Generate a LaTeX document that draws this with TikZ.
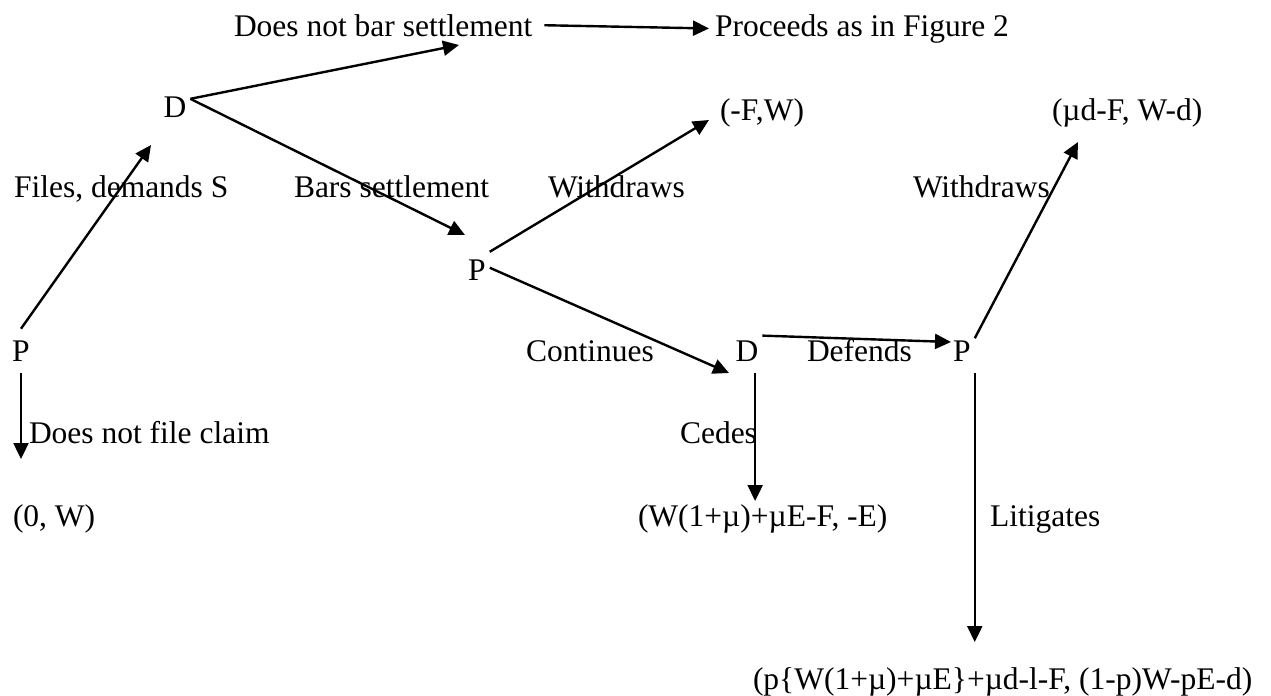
\documentclass[tikz,border=0pt]{standalone}
\usepackage{fontspec}
\setmainfont{Liberation Serif}
\usetikzlibrary{arrows.meta}
\begin{document}
\begin{tikzpicture}[x=.5pt,y=-.5pt,
  lbl/.style={inner sep=0pt,outer sep=0pt,anchor=base west,font=\fontsize{15.75}{18.9}\selectfont},
  player/.style={inner xsep=2pt,inner ysep=6pt,outer sep=0pt,font=\fontsize{15.75}{18.9}\selectfont},
  move/.style={draw,line width=1.2pt,-{Triangle[length=8pt,width=7.5pt]}}]
\path[use as bounding box] (0,0) rectangle (1271,696);
% decision nodes
\node[player] (pA) at (21,351) {P};
\node[player] (dA) at (175,107) {D};
\node[player] (pB) at (477,270) {P};
\node[player] (dB) at (747,351) {D};
\node[player] (pC) at (962,351) {P};
% moves and payoffs
\node[lbl] (barNote) at (234,36) {Does not bar settlement};
\node[lbl] (proceeds) at (715,36) {Proceeds as in Figure 2};
\node[lbl] (payWA) at (720,120) {(-F,W)};
\node[lbl] (payWB) at (1052,120) {(µd-F, W-d)};
\node[lbl] (files) at (14,197) {Files, demands S};
\node[lbl] (bars) at (294,197) {Bars settlement};
\node[lbl] (wdrawA) at (548,197) {Withdraws};
\node[lbl] (wdrawB) at (913,197) {Withdraws};
\node[lbl] (cont) at (526,361) {Continues};
\node[lbl] (defends) at (807,361) {Defends};
\node[lbl] (nofile) at (29,443) {Does not file claim};
\node[lbl] (cedes) at (680,443) {Cedes};
\node[lbl] (payNone) at (13,526) {(0, W)};
\node[lbl] (payCede) at (638,526) {(W(1+µ)+µE-F, -E)};
\node[lbl] (litig) at (990,526) {Litigates};
\node[lbl] (payLit) at (753,689) {(p\{W(1+µ)+µE\}+µd-l-F, (1-p)W-pE-d)};
% free arrow ends
\coordinate (filesTip) at (151,145);
\coordinate (barTip) at (459,45);
\coordinate (barsTip) at (465,235);
\coordinate (wdrawTipA) at (709,120);
\coordinate (contTip) at (729,373);
\coordinate (defTip) at (951,342);
\coordinate (wdrawTipB) at (1078,142);
\coordinate (nofileTip) at (20,459);
\coordinate (cedeTip) at (755,501);
\coordinate (litTip) at (976,642);
% connectors
\draw[move] (pA.north) -- (filesTip);
\draw[move] (pA.south) -- (pA.south |- nofileTip);
\draw[move] (dA.28) -- (barTip);
\draw[move] (dA.28) -- (barsTip);
\draw[move] ([xshift=6pt]barNote.east) -- ([xshift=-3pt]proceeds.west);
\draw[move] (pB.55) -- (wdrawTipA);
\draw[move] (pB.10) -- (contTip);
\draw[move] (dB.45) -- (defTip);
\draw[move] (dB.-70) -- (dB.-70 |- cedeTip);
\draw[move] (pC.45) -- (wdrawTipB);
\draw[move] (pC.-60) -- (pC.-60 |- litTip);
\end{tikzpicture}
\end{document}
